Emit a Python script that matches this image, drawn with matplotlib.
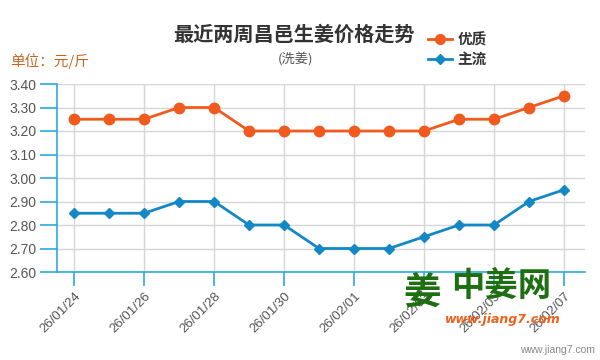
import matplotlib
matplotlib.use("Agg")
from matplotlib import pyplot as plt
from matplotlib.lines import Line2D

plt.rcParams["font.family"] = ["Noto Sans CJK SC", "DejaVu Sans"]

dates = ["26/01/24", "26/01/25", "26/01/26", "26/01/27", "26/01/28", "26/01/29",
         "26/01/30", "26/01/31", "26/02/01", "26/02/02", "26/02/03", "26/02/04",
         "26/02/05", "26/02/06", "26/02/07"]
premium = [3.25, 3.25, 3.25, 3.30, 3.30, 3.20, 3.20, 3.20, 3.20, 3.20, 3.20,
           3.25, 3.25, 3.30, 3.35]
mainstream = [2.85, 2.85, 2.85, 2.90, 2.90, 2.80, 2.80, 2.70, 2.70, 2.70, 2.75,
              2.80, 2.80, 2.90, 2.95]
y_ticks = [2.60, 2.70, 2.80, 2.90, 3.00, 3.10, 3.20, 3.30, 3.40]

orange = "#f05a1e"
blue = "#1487c6"
axis_blue = "#2aa9e0"
grid_grey = "#d6d6d6"
text_grey = "#555555"

fig = plt.figure(figsize=(6, 3.6), dpi=100)
ax = fig.add_axes([57 / 600, 1 - 272 / 360, (585 - 57) / 600, (272 - 84) / 360])

x = list(range(len(dates)))
ax.plot(x, premium, color=orange, lw=2, marker="o", ms=7.5, zorder=3)
ax.plot(x, mainstream, color=blue, lw=2, marker="D", ms=5.5, zorder=3)

ax.set_xlim(-0.49, 14.6)
ax.set_ylim(2.60, 3.40)
ax.set_yticks(y_ticks)
ax.set_yticklabels([f"{v:.2f}" for v in y_ticks], color=text_grey, fontsize=10,
                   family=["Liberation Sans", "DejaVu Sans"])
ax.set_xticks(x[::2])
ax.set_xticklabels(dates[::2], rotation=45, ha="right", rotation_mode="anchor",
                   color=text_grey, fontsize=9.5, family=["Liberation Sans", "DejaVu Sans"])

ax.grid(True, color=grid_grey, lw=1)
ax.set_axisbelow(True)
for side in ["top", "right"]:
    ax.spines[side].set_visible(False)
for side in ["left", "bottom"]:
    ax.spines[side].set_color(axis_blue)
    ax.spines[side].set_linewidth(1.2)
ax.tick_params(axis="y", length=12, color=axis_blue, width=1.2, pad=3)
ax.tick_params(axis="x", length=10, color=axis_blue, width=1.2, pad=3)

# titles and unit label
fig.text(0.49, 1 - 34 / 360, "最近两周昌邑生姜价格走势", ha="center", va="center",
         fontsize=14.5, fontweight="bold", color="#333333")
fig.text(0.492, 1 - 60 / 360, "(洗姜)", ha="center", va="center",
         fontsize=9.5, color=text_grey)
fig.text(10 / 600, 1 - 61 / 360, "单位：元/斤", ha="left", va="center",
         fontsize=10.5, color="#c8641e")

# legend
handles = [Line2D([], [], color=orange, lw=2, marker="o", ms=7),
           Line2D([], [], color=blue, lw=2, marker="D", ms=5)]
leg = fig.legend(handles, ["优质", "主流"], loc="center left",
                 bbox_to_anchor=(421 / 600, 1 - 49 / 360), frameon=False,
                 fontsize=10.5, handlelength=1.6, handletextpad=0.4,
                 labelspacing=0.25, borderpad=0)
for t in leg.get_texts():
    t.set_fontweight("bold")
    t.set_color("#333333")

# watermark
fig.text(422 / 600, 1 - 292 / 360, "姜", ha="center", va="center", fontsize=27,
         fontweight="bold", color="#1e6e12")
fig.text(501 / 600, 1 - 286 / 360, "中姜网", ha="center", va="center", fontsize=24,
         fontweight="bold", color="#1e6e12")
fig.text(503 / 600, 1 - 320 / 360, "www.jiang7.com", ha="center", va="center",
         fontsize=9, fontweight="bold", style="italic", color="#f06018",
         family=["DejaVu Sans"])
fig.text(595 / 600, 1 - 350 / 360, "www.jiang7.com", ha="right", va="center",
         fontsize=7.5, color="#888888", family=["Liberation Sans", "DejaVu Sans"])

fig.savefig("out.png", dpi=100)
